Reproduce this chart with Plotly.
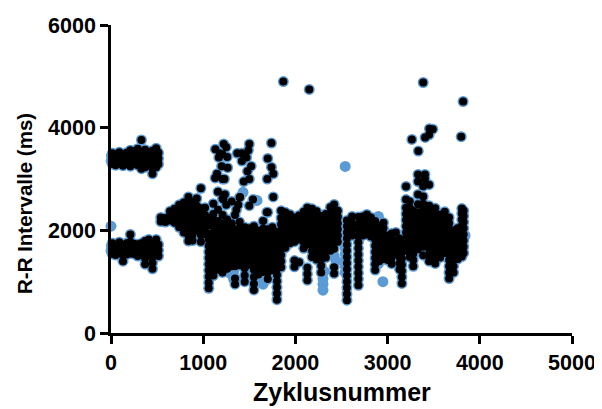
import plotly.graph_objects as go

# Each row: cycle number, then the R-R intervals read at that cycle
black_columns = [
 (15,[3290,3400,3500,1540,1650,1750]),(50,[3270,3370,3480,1520,1620,1710]),(90,[3300,3410,3520,1560,1660,1770]),
 (130,[3260,3360,3470,1400,1510,1620,1720]),(170,[3290,3400,3510,1530,1640,1750]),(210,[3250,3360,3480,3560,1550,1660,1780,1920]),
 (250,[3300,3420,3540,1540,1640,1740]),(290,[3270,3380,3500,3590,1500,1610,1730]),(330,[3200,3300,3420,3530,3760,1530,1640,1750]),
 (370,[3230,3340,3460,3570,1340,1450,1560,1680,1790]),(410,[3280,3400,3510,1520,1630,1750,1820]),(450,[3100,3210,3320,3440,3550,1250,1370,1480,1600,1720]),
 (490,[3230,3340,3460,3600,1540,1650,1770,1820]),(515,[3290,3400,3510,1500,1610,1720]),
 (540,[2170,2250]),(590,[2160,2240]),(640,[2190,2290,2370]),(690,[2150,2250,2350,2420]),
 (740,[2060,2170,2280,2400,2500]),(790,[1960,2070,2180,2300,2420,2540]),(840,[1790,1900,2010,2130,2250,2380,2520,2650]),
 (885,[1800,1920,2040,2160,2290,2430,2560]),(930,[2000,2110,2230,2350,2480,2620]),(975,[1780,1910,2030,2150,2280,2430,2820]),
 (1020,[1920,2040,2170,2300,2440]),
 (1060,[870,980,1100,1220,1340,1460,1580,1700,1820,1940,2100,2240]),(1110,[1120,1240,1360,1480,1600,1720,1840,1960,2080,2210,2320,2520]),
 (1160,[1230,1350,1470,1590,1710,1830,1950,2060,2180,2400,2750]),(1210,[1180,1300,1420,1540,1660,1780,1900,2020,2140,2300,2620,3000]),
 (1260,[1250,1370,1490,1610,1730,1850,1970,2090,2210]),(1310,[1300,1420,1540,1660,1780,1900,2020,2140,2560]),
 (1345,[950,1060,1300,1420,1540,1660,1780,1900,2020,2300]),(1395,[1320,1440,1560,1680,1800,1920,2040,2160,2640]),
 (1450,[1000,1120,1260,1380,1500,1620,1740,1860,1980,2060]),(1500,[1330,1450,1570,1690,1810,1930,2040,2480]),
 (1550,[840,960,1090,1230,1350,1470,1590,1710,1830,1950,2080]),(1600,[1140,1270,1390,1510,1630,1750,1870,1990]),
 (1650,[1190,1310,1430,1550,1670,1790,1910,2030,2180]),(1700,[1050,1180,1300,1420,1540,1660,1780,1900,2020,2350]),
 (1750,[1220,1340,1460,1580,1700,1820,1940,2060]),(1800,[650,770,890,1010,1130,1250,1370,1490,1610,1730,1850,1970]),
 (1845,[1280,1400,1520,1640,1760,1880,2000,2120,2240,2380]),(1890,[1660,1780,1900,2020,2140,2260,2350]),
 (1940,[1750,1870,1990,2110,2230,2310]),(1990,[1290,1410,1780,1900,2020,2140,2250]),(2040,[1380,1820,1940,2060,2180,2290]),
 (2090,[1650,1770,1890,2010,2130,2250,2360]),(2130,[1030,1150,1270,1730,1850,1970,2090,2210,2330,2440]),
 (2180,[1480,1600,1720,1840,1960,2080,2200,2320,2420]),(2230,[1430,1550,1670,1790,1910,2030,2150,2270,2370]),
 (2280,[1180,1310,1430,1550,1670,1790,1910,2030,2150,2280]),(2330,[1470,1590,1710,1830,1950,2070,2190,2320]),
 (2380,[1600,1720,1840,1960,2080,2200,2330,2450]),(2420,[1160,1280,1640,1760,1880,2000,2120,2240,2370,2505]),
 (2460,[1780,1900,2020,2140,2260,2380]),
 (2559,[640,760,880,1000,1120,1240,1360,1480,1600,1720,1840,1960,2080,2190]),
 (2615,[1900,2020,2140,2270]),
 (2683,[930,1050,1170,1290,1410,1530,1650,1770,1890,2010,2130,2260]),
 (2730,[1900,2020,2140,2270]),(2775,[1920,2040,2170,2310]),(2820,[1880,2000,2120,2250]),
 (2865,[1225,1340,1460,1580,1700,1820,1940,2060,2180]),(2910,[1400,1520,1640,1760,1880,2000,2090]),
 (2955,[1440,1560,1680,1800,1920,2040,2150]),(3000,[1420,1540,1660,1780,1900]),(3045,[1350,1470,1590,1710,1830,1940]),
 (3090,[1560,1680,1800,1960]),(3130,[1240,1360,1480,1600,1720,1840]),(3155,[965,1090,1210,1330,1450,1570,1690,1800]),
 (3200,[1600,1720,1840,1960,2080,2200,2320,2440,2600,2855]),(3240,[1480,1600,1720,1840,1960,2080,2200,2320,2440,2560]),
 (3278,[1300,1420,1540,1660,1780,1900,2020,2140,2260,2380]),(3330,[1630,1750,1870,1990,2110,2230,2350,2510,2700,2950,3090]),
 (3386,[1515,1680,1800,1920,2040,2160,2280,2400,2520,2660,2860]),(3405,[1720,1840,1960,2080,2200,2330,2480,3000,3090]),
 (3450,[1400,1520,1640,1760,1880,2000,2120,2240,2360,2480,2890]),(3516,[1355,1470,1590,1710,1830,1950,2070,2190,2300,2430]),
 (3570,[1470,1590,1710,1830,1950,2070,2190,2310]),(3620,[1560,1680,1800,1920,2040,2160,2280,2360]),
 (3667,[1060,1180,1300,1420,1540,1660,1780,1900,2020,2140,2250]),(3715,[1180,1300,1420,1540,1660,1780,1900,2000]),
 (3760,[1440,1560,1680,1800,1920,2040]),(3805,[1490,1610,1730,1850,1970,2090,2210,2330,2425]),(3825,[1560,1680,1800,1920,2040,2160,2280,2380]),
]
black_outlier_x = [1132,1180,1222,1250,1210,1260,1170,1150,1200,1265,1130,1230,1235,1220,1250,1370,1420,1500,1490,1470,1420,1520,1480,1500,1440,1540,1740,1700,1740,1695,1760,1760,1690,1400,1360,1380,1869,2150,3386,3819,3798,3454,3490,3407,3450,3263,3333]
black_outlier_y = [3580,3500,3680,3620,3480,3430,3420,3100,3250,3220,3020,3000,2700,2600,2500,3500,3500,3680,3560,3420,3350,3250,3150,3000,2950,2600,3700,3400,3230,3000,3100,2650,2350,2650,2400,2500,4897,4745,4880,4510,3825,3980,3970,3810,3860,3770,3545]

blue_only_x = [0,2,5,0,4,1432,1584,2540,2949,2299,2299,2299,2310,1330,1330,1300,2440,2420,2540,2540,2540,2540,2540,2540,2540,2525,2900,2880,2900,2920,1650,1600,3840,2540]
blue_only_y = [2080,3350,3450,1600,1700,2740,2583,3245,1000,835,950,1060,1200,1050,1200,1150,1400,1500,1300,1420,1540,1660,1780,1900,2020,2120,2270,2200,1350,1450,950,1050,1900,1180]

x_ticks = [0,1000,2000,3000,4000,5000]
y_ticks = [0,2000,4000,6000]
x_title = "Zyklusnummer"
y_title = "R-R Intervalle (ms)"

black_x = [c[0] for c in black_columns for _ in c[1]] + black_outlier_x
black_y = [v for c in black_columns for v in c[1]] + black_outlier_y

BLUE = "#5b9bd5"
font = "Liberation Sans"
fig = go.Figure()
fig.add_trace(go.Scatter(x=black_x+blue_only_x, y=black_y+blue_only_y, mode="markers",
    marker=dict(color=BLUE, size=11, line=dict(width=0)), cliponaxis=False, showlegend=False))
fig.add_trace(go.Scatter(x=black_x, y=black_y, mode="markers",
    marker=dict(color="black", size=8, line=dict(width=0)), cliponaxis=False, showlegend=False))
fig.update_layout(width=592, height=401, margin=dict(l=102.5, r=28, t=17, b=75.5, autoexpand=False),
    paper_bgcolor="white", plot_bgcolor="white", showlegend=False,
    font=dict(family=font, color="black"),
    annotations=[
      dict(text=f"<b>{x_title}</b>", xref="paper", yref="paper", x=0.5, y=0, xanchor="center", yanchor="middle",
           yshift=-59, showarrow=False, font=dict(family=font, size=25, color="black")),
      dict(text=f"<b>{y_title}</b>", xref="paper", yref="paper", x=0, y=0.5, xanchor="center", yanchor="middle",
           xshift=-87, yshift=-25, textangle=-90, showarrow=False, font=dict(family=font, size=20.5, color="black")),
    ])
axis = dict(showgrid=False, zeroline=False, showline=True, linecolor="black", linewidth=2.5, automargin=False,
            ticks="outside", ticklen=8, tickwidth=2.5, tickcolor="black",
            tickfont=dict(family=font, size=21.5, color="black", weight="bold"))
fig.update_xaxes(range=[0,5000], tickvals=x_ticks, ticktext=[str(v) for v in x_ticks], **axis)
fig.update_yaxes(range=[0,6000], tickvals=y_ticks, ticktext=[str(v) for v in y_ticks], **axis)
fig.write_html("out.html")
